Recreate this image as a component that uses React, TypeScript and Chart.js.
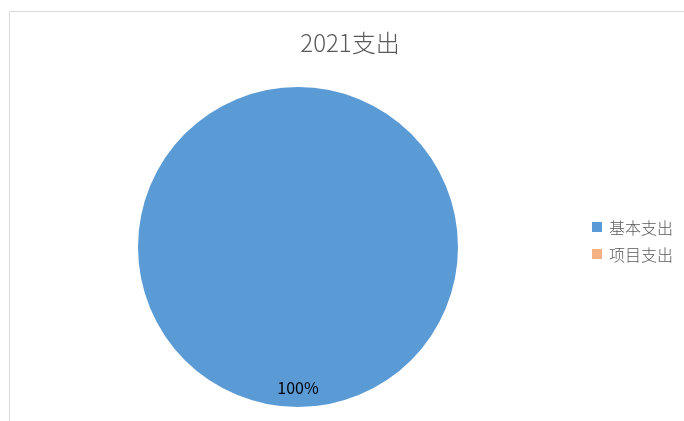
import React, { useEffect, useRef } from "react";
import { Chart, registerables } from "chart.js";

Chart.register(...registerables);

const TITLE = "2021支出";
const CATEGORIES = ["基本支出", "项目支出"];
const VALUES = [100, 0];
const COLORS = ["#5B9BD5", "#F4B183"];
const DATA_LABELS = ["100%"];

const FONT = '"Noto Sans CJK SC", "Noto Sans", sans-serif';

const decorPlugin = {
  id: "decor",
  beforeDraw(chart: any) {
    const ctx = chart.ctx;
    ctx.save();
    ctx.fillStyle = "#ffffff";
    ctx.fillRect(0, 0, chart.width, chart.height);
    ctx.strokeStyle = "#d9d9d9";
    ctx.lineWidth = 1;
    ctx.beginPath();
    ctx.moveTo(9.5, chart.height);
    ctx.lineTo(9.5, 11.5);
    ctx.lineTo(chart.width, 11.5);
    ctx.stroke();
    ctx.restore();
  },
  afterDraw(chart: any) {
    const ctx = chart.ctx;
    ctx.save();
    // title
    ctx.fillStyle = "#595959";
    ctx.font = `300 24px ${FONT}`;
    ctx.textAlign = "center";
    ctx.textBaseline = "middle";
    ctx.fillText(TITLE, 350, 43);

    // legend
    const labels = chart.data.labels as string[];
    const bg = chart.data.datasets[0].backgroundColor as string[];
    ctx.font = `300 16px ${FONT}`;
    ctx.textAlign = "left";
    labels.forEach((lab, i) => {
      const cy = 227 + i * 27;
      ctx.fillStyle = bg[i];
      ctx.fillRect(592, cy - 5, 10, 10);
      ctx.fillStyle = "#595959";
      ctx.fillText(lab, 609, cy + 1);
    });

    // data labels
    const meta = chart.getDatasetMeta(0);
    meta.data.forEach((arc: any, i: number) => {
      const txt = DATA_LABELS[i];
      if (!txt) return;
      const p = arc.getProps(["x", "y", "outerRadius"], true);
      ctx.fillStyle = "#000000";
      ctx.font = `16px ${FONT}`;
      ctx.textAlign = "center";
      ctx.textBaseline = "middle";
      ctx.fillText(txt, p.x, p.y + p.outerRadius * 0.88);
    });
    ctx.restore();
  },
};

export default function App() {
  const ref = useRef<HTMLCanvasElement | null>(null);
  useEffect(() => {
    if (!ref.current) return;
    const chart = new Chart(ref.current, {
      type: "pie",
      data: {
        labels: CATEGORIES,
        datasets: [
          {
            data: VALUES,
            backgroundColor: COLORS,
            borderWidth: 0,
          },
        ],
      },
      options: {
        animation: false,
        responsive: false,
        layout: { padding: { left: 138, right: 226, top: 86, bottom: 13 } },
        plugins: {
          legend: { display: false },
          title: { display: false },
          tooltip: { enabled: false },
        },
      },
      plugins: [decorPlugin],
    });
    return () => chart.destroy();
  }, []);
  return (
    <div style={{ position: "fixed", left: 0, top: 0, width: 684, height: 421, background: "#fff" }}>
      <canvas ref={ref} width={684} height={421} style={{ width: 684, height: 421, display: "block" }} />
    </div>
  );
}
